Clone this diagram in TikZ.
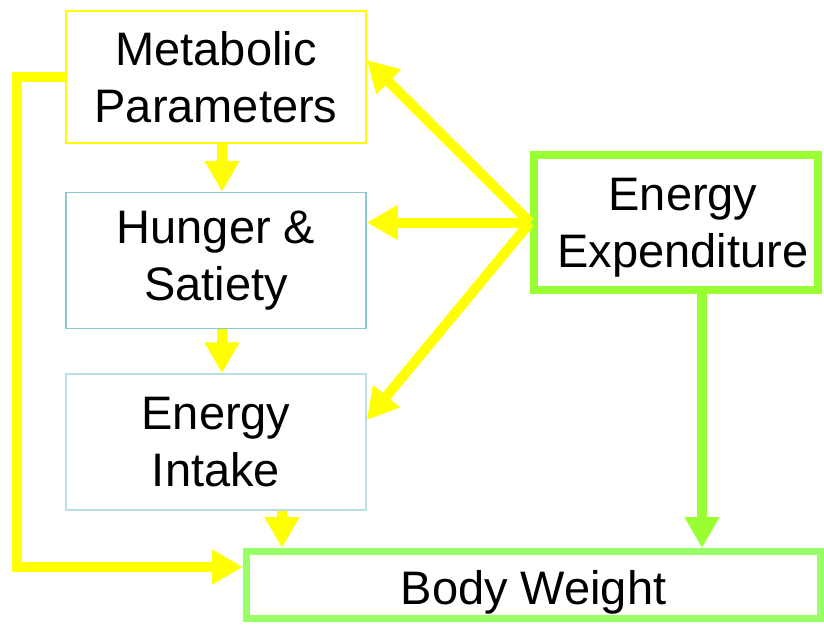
\documentclass[tikz,border=0pt]{standalone}
\usepackage{fontspec}
\setmainfont{Liberation Sans}
\usepackage{xcolor}
\usepackage{tikz}
\usetikzlibrary{positioning,arrows.meta,calc}

\definecolor{metC}{RGB}{255,255,0}
\definecolor{hunC}{RGB}{140,200,208}
\definecolor{intC}{RGB}{185,222,228}
\definecolor{eeC}{RGB}{153,255,51}
\definecolor{bwC}{RGB}{153,255,102}

\begin{document}
\begin{tikzpicture}[
    x=1pt, y={(0pt,-1pt)},
    box/.style={rectangle, draw, align=center, inner sep=0pt, minimum width=300pt, minimum height=136pt, font=\fontsize{47}{57}\selectfont},
    thinbox/.style={box, line width=1.5pt},
    thickbox/.style={box, line width=8pt},
    boxtext/.style={align=center, inner sep=0pt, font=\fontsize{47}{57}\selectfont},
    yarr/.style={-{Triangle[length=31pt, width=33pt]}, line width=10pt, draw=metC},
    garr/.style={-{Triangle[length=31pt, width=33pt]}, line width=10pt, draw=eeC},
]
\useasboundingbox (0,0) rectangle (824,624);

\node[thinbox, draw=metC, minimum height=132pt] (met) at (216,77) {Metabolic\\Parameters};
\node[thinbox, draw=hunC, below=48pt of met] (hun) {Hunger \&\\Satiety};
\node[thinbox, draw=intC, below=44pt of hun] (int) {Energy\\Intake};
\node[thickbox, draw=eeC, minimum width=284pt, minimum height=135pt] (ee) at (676,222.5) {};
\node[boxtext] (eetext) at ([xshift=7pt, yshift=-5pt]ee.center) {Energy\\Expenditure};
\node[thickbox, draw=bwC, line width=7pt, minimum width=574pt, minimum height=67pt] (bw) at (533.5,585) {};
\node[boxtext] (bwtext) at ([yshift=-7pt]bw.center) {Body Weight};

\draw[yarr] ([xshift=6pt]met.south) -- ([xshift=6pt]hun.north);
\draw[yarr] ([xshift=6pt]hun.south) -- ([xshift=6pt]int.north);
\draw[yarr] ([xshift=66pt]int.south) -- ([xshift=66pt]int.south |- bw.north);
\draw[yarr] (met.west) -- ++(-48,0) |- ([yshift=18pt]bw.west);

\draw[yarr] (ee.west) -- ([yshift=17pt]met.east);
\draw[yarr] (ee.west) -- ([yshift=38pt]hun.east);
\draw[yarr] (ee.west) -- ([yshift=22pt]int.east);

\draw[garr] ([xshift=26pt]ee.south) -- ([xshift=26pt]ee.south |- bw.north);
\end{tikzpicture}
\end{document}
